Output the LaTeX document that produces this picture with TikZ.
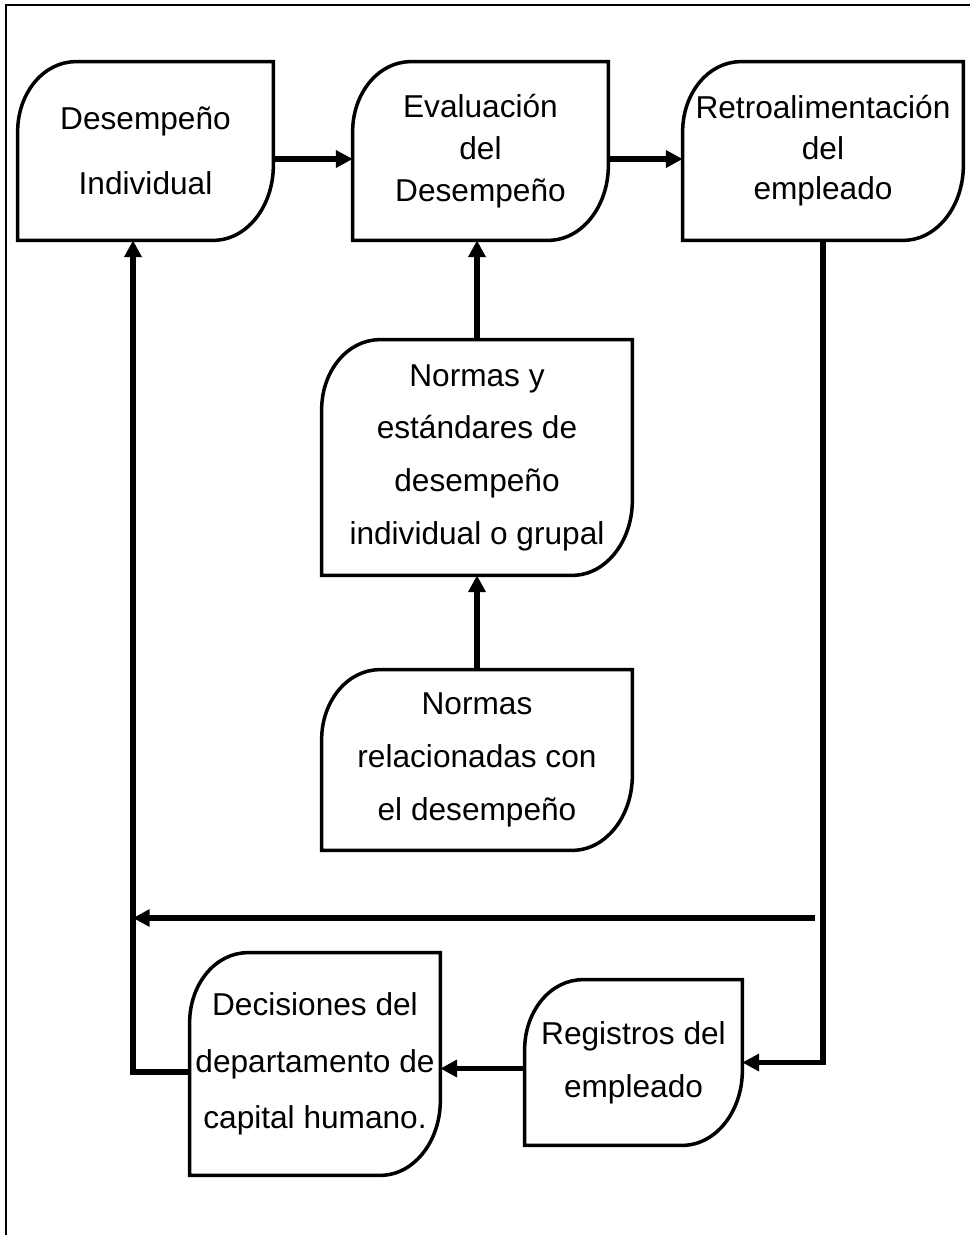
\documentclass[tikz,border=0pt]{standalone}
\usepackage{fontspec}
\setmainfont{Liberation Sans}
\usetikzlibrary{arrows.meta,calc}

% one unit = one pixel step, y grows downwards
\tikzset{
  x=0.02cm, y=-0.02cm,
  boxtext/.style={draw=none, inner sep=0pt, align=center, font=\fontsize{18}{#1}\selectfont},
  boxline/.style={line width=2pt, black},
  arr/.style={line width=3pt, -{Triangle[length=9.5pt,width=9.5pt]}},
  frameline/.style={line width=1.2pt}
}

% box with rounded top-left and bottom-right corners
% #1 name, #2 left, #3 top, #4 right, #5 bottom, #6 line spacing, #7 text
\newcommand\flowbox[7]{%
  \node[boxtext=#6, minimum width={0.02cm*(#4-#2)}, minimum height={0.02cm*(#5-#3)}]
    (#1) at ({(#2+#4)/2},{(#3+#5)/2}) {#7};
  \draw[boxline] ($(#1.north west)+(0,70)$)
     arc[start angle=180, end angle=90, x radius=1.16cm, y radius=1.4cm]
     -- (#1.north east) -- ($(#1.south east)+(0,-75)$)
     arc[start angle=0, end angle=-90, x radius=1.2cm, y radius=1.5cm]
     -- (#1.south west) -- cycle;
}

\begin{document}
\begin{tikzpicture}
\useasboundingbox (0,0) rectangle (970,1235);

% outer frame (left and top edges)
\draw[frameline] (6,1235) -- (6,5) -- (970,5);

\flowbox{b1}{18}{62}{273}{240}{37pt}{Desempeño\\Individual}
\flowbox{b2}{353}{62}{608}{240}{24pt}{Evaluación\\del\\Desempeño}
\flowbox{b3}{683}{62}{963}{240}{23pt}{Retroalimentación\\del\\empleado}
\flowbox{b4}{322}{340}{632}{575}{30pt}{Normas y\\estándares de\\desempeño\\individual o grupal}
\flowbox{b5}{322}{670}{632}{850}{30pt}{Normas\\relacionadas con\\el desempeño}
\flowbox{dec}{190}{953}{440}{1175}{32pt}{Decisiones del\\departamento de\\capital humano.}
\flowbox{reg}{525}{980}{742}{1145}{30pt}{Registros del\\empleado}

\coordinate (lx) at (133,0);
\coordinate (fb) at (815,918);

% top row
\draw[arr] ($(b1.east)+(0,8)$) -- ($(b2.west)+(0,8)$);
\draw[arr] ($(b2.east)+(0,8)$) -- ($(b3.west)+(0,8)$);

% middle column
\draw[arr] (b4.north) -- (b4.north |- b2.south);
\draw[arr] (b5.north) -- (b5.north |- b4.south);

% feedback loop
\draw[arr] (b3.south) |- (reg.east);
\draw[arr] ($(reg.west)+(0,6)$) -- ($(reg.west -| dec.east)+(0,6)$);
\draw[arr] ($(dec.west)+(0,8)$) -| (lx |- b1.south);
\draw[arr] (fb) -- (fb -| lx);
\end{tikzpicture}
\end{document}
